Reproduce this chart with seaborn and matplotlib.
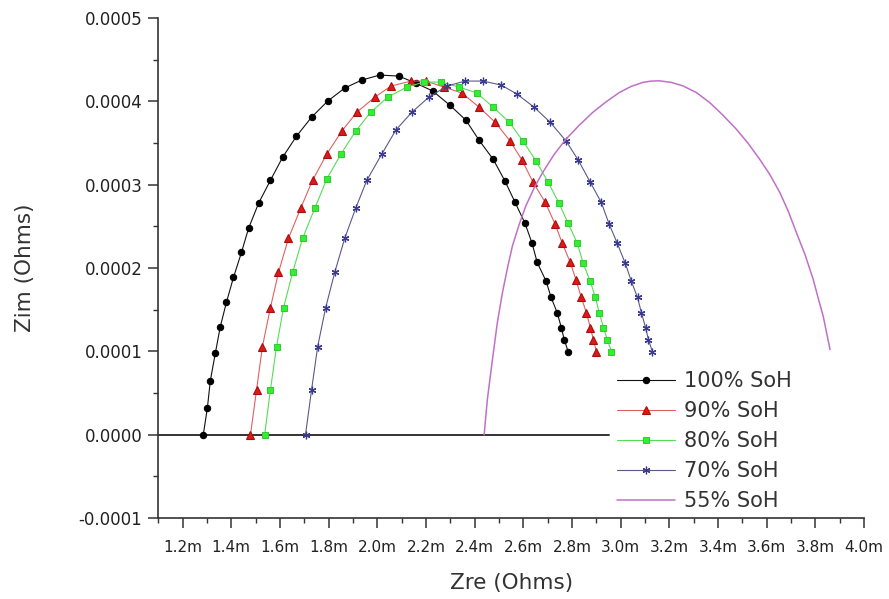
import numpy as np
import pandas as pd
import matplotlib
matplotlib.use("Agg")
import matplotlib.pyplot as plt
from matplotlib.ticker import MultipleLocator, FuncFormatter
import seaborn as sns

# Zre in milliohms, Zim in units of 1e-4 Ohm
zre_100 = [1.285, 1.302, 1.314, 1.335, 1.355, 1.380, 1.409, 1.442, 1.471, 1.512, 1.561, 1.611,
           1.668, 1.730, 1.796, 1.866, 1.936, 2.010, 2.088, 2.158, 2.228, 2.298, 2.364, 2.418,
           2.476, 2.525, 2.566, 2.607, 2.636, 2.657, 2.694, 2.714, 2.739, 2.756, 2.768, 2.784]
zim_100 = [0.0, 0.325, 0.649, 0.986, 1.298, 1.587, 1.887, 2.188, 2.476, 2.776, 3.053, 3.329,
           3.582, 3.810, 4.002, 4.159, 4.255, 4.315, 4.303, 4.219, 4.123, 3.954, 3.774, 3.534,
           3.305, 3.041, 2.788, 2.536, 2.296, 2.067, 1.839, 1.647, 1.466, 1.286, 1.142, 0.998]

zre_90 = [1.479, 1.504, 1.528, 1.561, 1.594, 1.635, 1.685, 1.734, 1.792, 1.854, 1.916, 1.990,
          2.056, 2.138, 2.200, 2.274, 2.348, 2.418, 2.484, 2.546, 2.595, 2.640, 2.690, 2.731,
          2.760, 2.793, 2.817, 2.838, 2.859, 2.875, 2.888, 2.900]
zim_90 = [0.0, 0.541, 1.058, 1.526, 1.947, 2.356, 2.716, 3.053, 3.365, 3.642, 3.870, 4.050,
          4.183, 4.243, 4.243, 4.171, 4.099, 3.930, 3.750, 3.522, 3.293, 3.029, 2.788, 2.524,
          2.296, 2.067, 1.851, 1.647, 1.466, 1.286, 1.142, 0.998]

zre_80 = [1.537, 1.561, 1.586, 1.615, 1.652, 1.693, 1.743, 1.792, 1.850, 1.911, 1.973, 2.043,
          2.121, 2.191, 2.261, 2.336, 2.410, 2.476, 2.542, 2.599, 2.653, 2.702, 2.747, 2.784,
          2.822, 2.846, 2.875, 2.896, 2.912, 2.929, 2.945, 2.962]
zim_80 = [0.0, 0.541, 1.058, 1.526, 1.947, 2.356, 2.716, 3.065, 3.365, 3.642, 3.870, 4.050,
          4.171, 4.231, 4.231, 4.171, 4.099, 3.930, 3.750, 3.522, 3.281, 3.029, 2.776, 2.536,
          2.296, 2.055, 1.839, 1.647, 1.466, 1.286, 1.142, 0.998]

zre_70 = [1.705, 1.730, 1.755, 1.788, 1.825, 1.866, 1.911, 1.957, 2.018, 2.076, 2.142, 2.212,
          2.286, 2.360, 2.434, 2.509, 2.574, 2.644, 2.710, 2.776, 2.826, 2.875, 2.920, 2.953,
          2.986, 3.019, 3.044, 3.069, 3.085, 3.102, 3.114, 3.130]
zim_70 = [0.0, 0.541, 1.058, 1.526, 1.947, 2.356, 2.716, 3.053, 3.365, 3.654, 3.870, 4.050,
          4.183, 4.243, 4.243, 4.195, 4.087, 3.930, 3.750, 3.522, 3.293, 3.029, 2.788, 2.524,
          2.296, 2.055, 1.839, 1.647, 1.466, 1.286, 1.142, 0.998]

zre_55 = [2.439, 2.452, 2.473, 2.493, 2.514, 2.535, 2.555, 2.583, 2.610, 2.645, 2.679, 2.727,
          2.775, 2.830, 2.885, 2.940, 2.995, 3.043, 3.091, 3.125, 3.159, 3.208, 3.255, 3.310,
          3.365, 3.420, 3.475, 3.523, 3.571, 3.612, 3.654, 3.688, 3.722, 3.757, 3.791, 3.811,
          3.832, 3.846, 3.860]
zim_55 = [0.0, 0.421, 0.901, 1.342, 1.703, 2.003, 2.263, 2.524, 2.744, 2.965, 3.145, 3.365,
          3.546, 3.714, 3.867, 3.994, 4.107, 4.179, 4.227, 4.243, 4.246, 4.227, 4.186, 4.107,
          3.987, 3.834, 3.666, 3.498, 3.305, 3.125, 2.905, 2.684, 2.424, 2.163, 1.863, 1.643,
          1.422, 1.222, 1.022]

labels = ["100% SoH", "90% SoH", "80% SoH", "70% SoH", "55% SoH"]
zero_line_zre = [1.1, 2.953]
zero_line_zim = [0.0, 0.0]

x_ticks = [1.2, 1.4, 1.6, 1.8, 2.0, 2.2, 2.4, 2.6, 2.8, 3.0, 3.2, 3.4, 3.6, 3.8, 4.0]
y_ticks = [-0.0001, 0.0, 0.0001, 0.0002, 0.0003, 0.0004, 0.0005]

sns.set_style("ticks")
plt.rcParams["font.family"] = ["DejaVu Sans"]

fig = plt.figure(figsize=(8.89, 5.99), dpi=100)
ax = fig.add_axes([0.178, 0.135, 0.794, 0.835])

def frame(zre, zim, name):
    return pd.DataFrame({"Zre": zre, "Zim": np.array(zim) * 1e-4, "series": name})

ax.plot(zero_line_zre, zero_line_zim, color="#333333", lw=1.4, zorder=1)

styles = [
    dict(color="#111111", marker="o", markersize=4.6, markerfacecolor="black", markeredgecolor="black", lw=0.8),
    dict(color="#e06060", marker="^", markersize=6, markerfacecolor="#e01818", markeredgecolor="#a81010",
         markeredgewidth=0.8, lw=0.8),
    dict(color="#55dd55", marker="s", markersize=4.6, markerfacecolor="#33ee33", markeredgecolor="#33cc33",
         lw=0.8),
    dict(color="#5a5a8a", marker=(6, 2, 0), markersize=5.5, markerfacecolor="#3a3a90", markeredgecolor="#3a3a90",
         markeredgewidth=0.9, lw=0.8),
]
series = [(zre_100, zim_100), (zre_90, zim_90), (zre_80, zim_80), (zre_70, zim_70)]
for (zr, zi), lab, st in zip(series, labels[:4], styles):
    df = frame(zr, zi, lab)
    sns.lineplot(data=df, x="Zre", y="Zim", sort=False, ax=ax, label=lab, estimator=None, **st)

df55 = frame(zre_55, zim_55, labels[4])
sns.lineplot(data=df55, x="Zre", y="Zim", sort=False, ax=ax, label=labels[4], estimator=None,
             color="#c070c8", lw=1.1)

ax.set_xlim(1.1, 4.0)
ax.set_ylim(-0.0001, 0.0005)
ax.set_xticks(x_ticks)
ax.set_yticks(y_ticks)
ax.xaxis.set_minor_locator(MultipleLocator(0.1))
ax.yaxis.set_minor_locator(MultipleLocator(0.00005))
ax.xaxis.set_major_formatter(FuncFormatter(lambda v, p: f"{v:.1f}m"))
ax.yaxis.set_major_formatter(FuncFormatter(lambda v, p: f"{v:.4f}"))
ax.tick_params(axis="both", which="major", length=7, width=1.1, color="#333333", labelcolor="#222222")
ax.tick_params(axis="both", which="minor", length=3.8, width=1.0, color="#333333")
ax.tick_params(axis="x", labelsize=11, pad=9)
ax.tick_params(axis="y", labelsize=12, pad=4.5)

for s in ["top", "right"]:
    ax.spines[s].set_visible(False)
for s in ["left", "bottom"]:
    ax.spines[s].set_color("#333333")
    ax.spines[s].set_linewidth(1.2)

ax.set_xlabel("Zre (Ohms)", fontsize=15.5, color="#333333", labelpad=13)
ax.set_ylabel("Zim (Ohms)", fontsize=15.5, color="#333333", labelpad=31)

leg = ax.legend(loc="upper left", bbox_to_anchor=(0.638, 0.31), frameon=False, fontsize=15,
                handlelength=2.8, handletextpad=0.4, labelspacing=0.48, numpoints=1, borderaxespad=0)
for t in leg.get_texts():
    t.set_color("#333333")

fig.savefig("out.png", dpi=100)
